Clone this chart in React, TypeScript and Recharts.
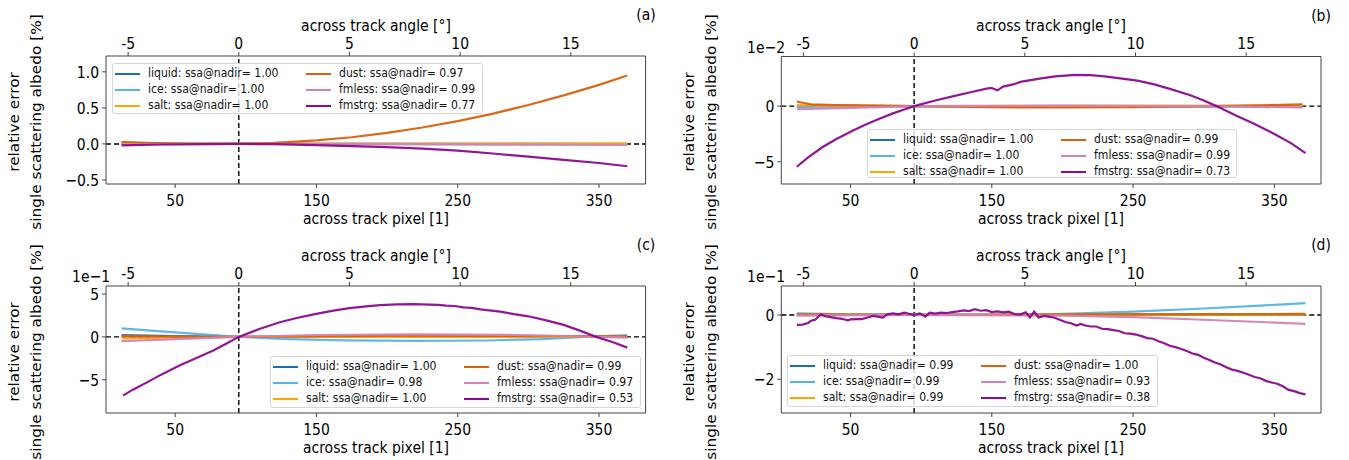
import React from 'react';
import { LineChart, Line, XAxis, YAxis, ReferenceLine } from 'recharts';

const FONT = '"DejaVu Sans", sans-serif';
const SX = 0.87; // glyphs in the reference are a bit narrower than tall
const SPINE = '#444';

const pixelTicks = [50, 150, 250, 350];
const angleTicks = [-5, 0, 5, 10, 15];
const PX_DOMAIN: [number, number] = [1, 383];
const ANGLE_DOMAIN: [number, number] = [-6.0, 18.38];
const NADIR_PX = 95;

const seriesNames = ['liquid', 'ice', 'salt', 'dust', 'fmless', 'fmstrg'];
const seriesColors = ['#1a70b5', '#56b4e9', '#ffa500', '#d9600c', '#d184b3', '#8b0a8f'];

const ssaA = ['1.00', '1.00', '1.00', '0.97', '0.99', '0.77'];
const ssaB = ['1.00', '1.00', '1.00', '0.99', '0.99', '0.73'];
const ssaC = ['1.00', '0.98', '1.00', '0.99', '0.97', '0.53'];
const ssaD = ['0.99', '0.99', '0.99', '1.00', '0.93', '0.38'];

// panel (a), values in %
const aLiquid = [[12, 0], [95, 0], [370, 0]];
const aIce = [[12, 0.005], [95, 0], [370, -0.002]];
const aSalt = [[12, 0.01], [95, 0], [370, 0.005]];
const aDust = [[12, 0.03], [25, 0.018], [40, 0.008], [60, 0.002], [80, 0], [95, 0], [120, 0.014], [150, 0.048], [175, 0.093], [200, 0.153], [225, 0.228], [250, 0.317], [275, 0.42], [300, 0.54], [325, 0.674], [350, 0.82], [370, 0.95]];
const aFmless = [[12, -0.005], [95, 0], [200, -0.004], [300, -0.01], [370, -0.015]];
const aFmstrg = [[12, -0.02], [40, -0.008], [70, -0.002], [95, 0], [120, -0.004], [150, -0.016], [175, -0.03], [200, -0.045], [225, -0.066], [250, -0.093], [275, -0.133], [300, -0.177], [325, -0.222], [350, -0.265], [370, -0.31]];

// panel (b), values in 1e-2 %
const bLiquid = [[12, 0.02], [95, 0], [370, 0]];
const bIce = [[12, -0.08], [95, 0], [370, -0.03]];
const bSalt = [[12, 0.08], [95, 0], [370, 0.05]];
const bDust = [[12, 0.4], [17, 0.28], [22, 0.15], [40, 0.1], [70, 0.05], [95, 0], [150, -0.1], [200, -0.12], [250, -0.1], [300, -0.02], [340, 0.08], [370, 0.15]];
const bFmless = [[12, -0.27], [50, -0.15], [95, 0], [200, 0.05], [300, 0], [370, -0.12]];
const bFmstrg = [[12, -5.45], [20, -4.6], [30, -3.7], [40, -2.95], [50, -2.3], [60, -1.7], [70, -1.15], [80, -0.65], [88, -0.3], [95, 0], [110, 0.5], [123, 0.9], [135, 1.25], [147, 1.6], [150, 1.62], [154, 1.42], [158, 1.75], [165, 1.95], [171, 2.2], [185, 2.5], [195, 2.68], [209, 2.8], [220, 2.78], [230, 2.68], [253, 2.29], [265, 1.95], [276, 1.55], [290, 1.0], [300, 0.5], [309, 0], [322, -0.8], [336, -1.6], [350, -2.5], [362, -3.35], [372, -4.22]];

// panel (c), values in 1e-1 %
const cLiquid = [[12, 0.2], [50, 0.1], [95, 0], [200, 0.05], [370, 0.05]];
const cIce = [[12, 1.0], [40, 0.65], [70, 0.3], [95, 0], [130, -0.25], [170, -0.4], [220, -0.47], [270, -0.42], [310, -0.25], [340, 0], [370, 0.22]];
const cSalt = [[12, -0.15], [95, 0], [370, 0]];
const cDust = [[12, 0.1], [95, 0], [200, 0.15], [300, 0.12], [370, 0.05]];
const cFmless = [[12, -0.5], [50, -0.25], [95, 0], [150, 0.22], [220, 0.3], [290, 0.22], [350, 0], [370, -0.08]];
const cFmstrg = [[13, -6.85], [20, -6.15], [30, -5.3], [40, -4.4], [53, -3.33], [65, -2.45], [77, -1.59], [86, -0.8], [95, 0], [110, 0.95], [124, 1.7], [136, 2.2], [148, 2.62], [160, 3.0], [172, 3.33], [185, 3.55], [195, 3.69], [207, 3.78], [219, 3.81], [230, 3.76], [236, 3.74], [242, 3.65], [248, 3.6], [254, 3.45], [260, 3.38], [266, 3.2], [280, 2.94], [290, 2.65], [300, 2.4], [312, 1.95], [325, 1.4], [337, 0.7], [348, 0], [360, -0.62], [370, -1.25]];

// panel (d), values in 1e-1 %
const dLiquid = [[12, 0.01], [95, 0], [370, 0.01]];
const dIce = [[12, 0.05], [50, 0.02], [95, 0], [150, 0], [200, 0.03], [250, 0.1], [300, 0.2], [340, 0.29], [372, 0.37]];
const dSalt = [[12, 0], [372, 0.01]];
const dDust = [[12, 0.02], [95, 0], [200, 0.02], [372, 0.03]];
const dFmless = [[12, -0.02], [95, 0], [200, -0.02], [250, -0.07], [300, -0.15], [340, -0.22], [372, -0.28]];
const dFmstrg = [[12, -0.31], [16, -0.3], [20, -0.25], [22, -0.18], [25, -0.15], [29, 0.02], [32, -0.04], [36, -0.07], [40, -0.1], [44, -0.12], [48, -0.17], [50, -0.14], [54, -0.13], [58, -0.13], [62, -0.08], [66, -0.03], [69, -0.05], [73, -0.08], [76, 0.02], [80, 0.05], [84, 0.02], [88, 0.07], [92, 0.03], [95, 0], [99, 0.05], [103, -0.05], [106, 0.07], [110, 0.04], [114, 0.07], [118, 0.06], [122, 0.09], [126, 0.11], [130, 0.14], [134, 0.12], [138, 0.18], [142, 0.13], [146, 0.15], [150, 0.09], [154, 0.11], [158, 0.08], [162, 0.1], [166, 0.03], [170, 0.01], [174, 0.08], [177, -0.08], [180, 0.1], [183, -0.08], [187, -0.03], [190, -0.05], [194, -0.08], [198, -0.15], [202, -0.22], [206, -0.26], [210, -0.33], [213, -0.28], [216, -0.33], [220, -0.36], [224, -0.36], [228, -0.43], [232, -0.44], [236, -0.47], [240, -0.5], [244, -0.57], [248, -0.58], [252, -0.61], [256, -0.66], [260, -0.72], [264, -0.74], [268, -0.82], [272, -0.88], [276, -0.96], [280, -1.0], [284, -1.06], [288, -1.12], [292, -1.2], [296, -1.24], [300, -1.33], [304, -1.4], [308, -1.48], [312, -1.54], [316, -1.63], [320, -1.7], [324, -1.74], [328, -1.8], [332, -1.86], [336, -1.93], [340, -1.97], [344, -2.05], [348, -2.1], [352, -2.14], [356, -2.22], [360, -2.33], [364, -2.37], [368, -2.43], [372, -2.47]];

const minus = (s: string) => s.replace('-', '\u2212');

const panels = [
  {
    tag: '(a)', x0: 0, y0: 0, box: { l: 106, r: 645.6, t: 56, b: 184 },
    yDomain: [-0.556, 1.22], yTicks: [-0.5, 0, 0.5, 1.0], fmt: (v: number) => minus(v.toFixed(1)),
    offset: '', legend: { l: 112, t: 63, w: 371, h: 51 }, ssa: ssaA,
    series: [aLiquid, aIce, aSalt, aDust, aFmless, aFmstrg],
  },
  {
    tag: '(b)', x0: 675, y0: 0, box: { l: 781.3, r: 1321, t: 56.5, b: 184 },
    yDomain: [-7.0, 4.46], yTicks: [-5, 0], fmt: (v: number) => minus(String(v)),
    offset: '1e\u22122', legend: { l: 867, t: 129, w: 370, h: 49 }, ssa: ssaB,
    series: [bLiquid, bIce, bSalt, bDust, bFmless, bFmstrg],
  },
  {
    tag: '(c)', x0: 0, y0: 230, box: { l: 106, r: 645.6, t: 286, b: 413 },
    yDomain: [-8.87, 5.93], yTicks: [-5, 0, 5], fmt: (v: number) => minus(String(v)),
    offset: '1e\u22121', legend: { l: 270, t: 356, w: 371, h: 52 }, ssa: ssaC,
    series: [cLiquid, cIce, cSalt, cDust, cFmless, cFmstrg],
  },
  {
    tag: '(d)', x0: 675, y0: 230, box: { l: 781.3, r: 1321, t: 286, b: 413 },
    yDomain: [-3.05, 0.9], yTicks: [-2, 0], fmt: (v: number) => minus(String(v)),
    offset: '1e\u22121', legend: { l: 787, t: 355, w: 371, h: 52 }, ssa: ssaD,
    series: [dLiquid, dIce, dSalt, dDust, dFmless, dFmstrg],
  },
];

const makeTick = (kind: 'bottom' | 'top' | 'left', fmt: (v: number) => string) => (props: any) => {
  const { x, y, payload } = props;
  let anchor = 'middle';
  let dy = 0;
  if (kind === 'bottom') dy = 13.5;
  if (kind === 'top') dy = 0.5;
  if (kind === 'left') { anchor = 'end'; dy = 5.8; }
  return (
    <text transform={`translate(${x},${y + dy}) scale(${SX},1)`} textAnchor={anchor}
      fontSize={16} fill="#000" fontFamily={FONT}>
      {fmt(payload.value)}
    </text>
  );
};

const Label = ({ x, y, text, size = 16, rotate = false, align = 'center' }: any) => {
  const tx = align === 'right' ? '-100%' : '-50%';
  const tf = rotate
    ? `translate(-50%,-50%) rotate(-90deg) scaleY(${SX})`
    : `translate(${tx},-50%) scaleX(${SX})`;
  return (
    <div style={{
      position: 'absolute', left: x, top: y, transform: tf,
      transformOrigin: align === 'right' && !rotate ? '100% 50%' : '50% 50%',
      whiteSpace: 'nowrap', fontSize: size, fontFamily: FONT, color: '#000', lineHeight: 1,
    }}>{text}</div>
  );
};

const Legend = ({ cfg }: any) => {
  const { legend, ssa } = cfg;
  return (
    <div style={{
      position: 'absolute', left: legend.l, top: legend.t, width: legend.w, height: legend.h,
      boxSizing: 'border-box', border: '1px solid #d6d6d6', borderRadius: 3,
      background: 'rgba(255,255,255,0.8)',
    }}>
      {seriesNames.map((name, i) => {
        const col = Math.floor(i / 3);
        const row = i % 3;
        return (
          <div key={name} style={{ position: 'absolute', left: 2 + col * 191, top: 10 + row * 16 - 1 }}>
            <div style={{ position: 'absolute', left: 0, top: 0, width: 25, height: 2, background: seriesColors[i] }} />
            <div style={{
              position: 'absolute', left: 33, top: 0, transform: `translateY(-50%) scaleX(${SX})`,
              transformOrigin: '0 50%', whiteSpace: 'nowrap', fontSize: 12.5, fontFamily: FONT, color: '#111',
              lineHeight: 1,
            }}>{`${name}: ssa@nadir= ${ssa[i]}`}</div>
          </div>
        );
      })}
    </div>
  );
};

const Panel = ({ cfg }: any) => {
  const W = 675, H = 230, YW = 40, XH = 30;
  const { x0, y0, box } = cfg;
  const margin = {
    left: box.l - x0 - YW,
    right: x0 + W - box.r,
    top: box.t - y0 - XH,
    bottom: y0 + H - box.b - XH,
  };
  const cx = (box.l + box.r) / 2 - x0;
  const cy = (box.t + box.b) / 2 - y0 + 2;
  return (
    <div style={{ position: 'absolute', left: x0, top: y0, width: W, height: H }}>
      <LineChart width={W} height={H} margin={margin}>
        <XAxis xAxisId="px" type="number" dataKey="p" domain={PX_DOMAIN} ticks={pixelTicks}
          allowDataOverflow height={XH} tickSize={4} tickMargin={4}
          axisLine={{ stroke: SPINE }} tickLine={{ stroke: SPINE }}
          tick={makeTick('bottom', (v) => String(v))} />
        <XAxis xAxisId="ang" orientation="top" type="number" dataKey="a" domain={ANGLE_DOMAIN} ticks={angleTicks}
          allowDataOverflow height={XH} tickSize={4} tickMargin={4}
          axisLine={{ stroke: SPINE }} tickLine={{ stroke: SPINE }}
          tick={makeTick('top', (v) => String(v))} />
        <YAxis yAxisId="v" type="number" domain={cfg.yDomain} ticks={cfg.yTicks}
          allowDataOverflow width={YW} tickSize={4} tickMargin={3}
          axisLine={{ stroke: SPINE }} tickLine={{ stroke: SPINE }}
          tick={makeTick('left', cfg.fmt)} />
        <ReferenceLine xAxisId="px" yAxisId="v" y={0} stroke="#000" strokeDasharray="5 3" strokeWidth={1.4} />
        <ReferenceLine xAxisId="px" yAxisId="v" x={NADIR_PX} stroke="#000" strokeDasharray="5 3" strokeWidth={1.4} />
        <ReferenceLine xAxisId="px" yAxisId="v" x={PX_DOMAIN[1]} stroke={SPINE} strokeWidth={1} />
        {/* empty series that only carries the angle axis */}
        <Line xAxisId="ang" yAxisId="v" dataKey="v" data={angleTicks.map((a) => ({ a }))}
          stroke="none" dot={false} activeDot={false} isAnimationActive={false} />
        {cfg.series.map((pts: number[][], i: number) => (
          <Line key={seriesNames[i]} xAxisId="px" yAxisId="v" type="linear" dataKey="v"
            data={pts.map(([p, v]) => ({ p, v }))} stroke={seriesColors[i]} strokeWidth={2.2}
            strokeOpacity={0.95} dot={false} activeDot={false} isAnimationActive={false} />
        ))}
      </LineChart>
      <Label x={box.r - x0} y={box.t - y0 - 41} text={cfg.tag} />
      <Label x={cx} y={box.t - y0 - 30.5} text="across track angle [°]" />
      <Label x={cx} y={box.b - y0 + 34.5} text="across track pixel [1]" />
      <Label x={box.l - x0 - 91} y={cy} text="relative error" rotate size={15.3} />
      <Label x={box.l - x0 - 69} y={cy} text="single scattering albedo [%]" rotate size={15.3} />
      {cfg.offset && <Label x={box.l - x0 + 4} y={box.t - y0 - 9} text={cfg.offset} align="right" />}
      <div style={{ position: 'absolute', left: -x0, top: -y0 }}>
        <Legend cfg={cfg} />
      </div>
    </div>
  );
};

export default function App() {
  return (
    <div style={{ position: 'absolute', left: 0, top: 0, width: 1349, height: 460, background: '#fff', overflow: 'hidden' }}>
      {panels.map((cfg) => <Panel key={cfg.tag} cfg={cfg} />)}
    </div>
  );
}
